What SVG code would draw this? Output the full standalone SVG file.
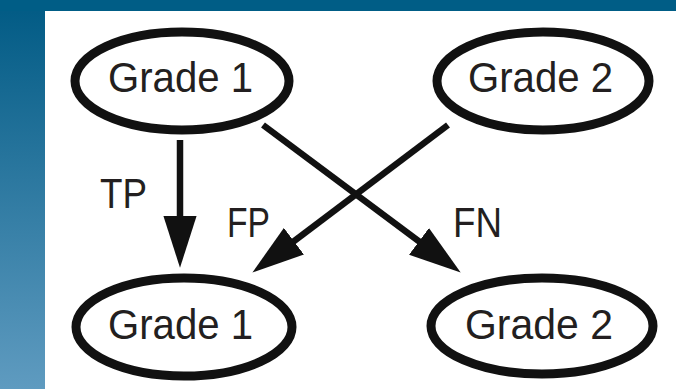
<svg xmlns="http://www.w3.org/2000/svg" width="676" height="389" viewBox="0 0 676 389">
  <defs>
    <linearGradient id="bg" x1="0" y1="0" x2="0" y2="1">
      <stop offset="0" stop-color="#005a84"/>
      <stop offset="1" stop-color="#5f9bc0"/>
    </linearGradient>
    <marker id="arrow" markerUnits="userSpaceOnUse" markerWidth="52" markerHeight="34" viewBox="0 0 50 32" refX="30" refY="16" orient="auto">
      <path d="M0,0 L50,16 L0,32 Z" fill="#111"/>
    </marker>
  </defs>
  <style>
    .node ellipse { fill: #fff; stroke: #111; stroke-width: 9; }
    .label { font-family: "Liberation Sans", Arial, sans-serif; font-size: 43px; fill: #231f20; }
    .node text { text-anchor: middle; }
    .edge { stroke: #111; stroke-width: 6.5; fill: none; marker-end: url(#arrow); }
  </style>
  <rect x="0" y="0" width="676" height="389" fill="url(#bg)"/>
  <rect x="0" y="0" width="676" height="11" fill="#005d86"/>
  <rect x="45" y="11" width="631" height="378" fill="#fff"/>

  <g id="connectors">
    <line class="edge" x1="180" y1="140" x2="180" y2="247"/>
    <line class="edge" x1="448" y1="125" x2="269" y2="260"/>
    <line class="edge" x1="263" y1="125" x2="444" y2="260"/>
    <text class="label" x="100" y="208" textLength="47" lengthAdjust="spacingAndGlyphs">TP</text>
    <text class="label" x="227" y="237" textLength="43" lengthAdjust="spacingAndGlyphs">FP</text>
    <text class="label" x="453" y="237" textLength="49" lengthAdjust="spacingAndGlyphs">FN</text>
  </g>

  <g id="pred-grade1" class="node">
    <ellipse cx="182" cy="81" rx="107" ry="49"/>
    <text class="label" x="180.5" y="92" textLength="145" lengthAdjust="spacingAndGlyphs">Grade 1</text>
  </g>
  <g id="pred-grade2" class="node">
    <ellipse cx="543" cy="81" rx="106" ry="49"/>
    <text class="label" x="540.5" y="92" textLength="145" lengthAdjust="spacingAndGlyphs">Grade 2</text>
  </g>
  <g id="true-grade1" class="node">
    <ellipse cx="184" cy="327" rx="108" ry="49"/>
    <text class="label" x="180.5" y="339" textLength="145" lengthAdjust="spacingAndGlyphs">Grade 1</text>
  </g>
  <g id="true-grade2" class="node">
    <ellipse cx="542" cy="326" rx="111" ry="48"/>
    <text class="label" x="539" y="339" textLength="148" lengthAdjust="spacingAndGlyphs">Grade 2</text>
  </g>
</svg>
